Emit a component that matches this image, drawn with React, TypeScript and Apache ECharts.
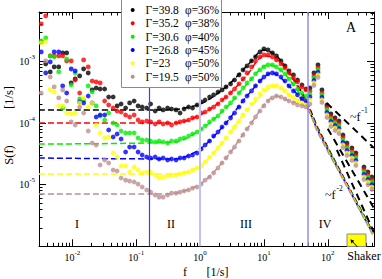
import React, { useEffect, useRef } from 'react';
import * as echarts from 'echarts';

const SERIF = '"Liberation Serif", "Times New Roman", serif';

// frequencies of the measured points [1/s]
const freq = [
  0.00325, 0.00382, 0.0045, 0.00519, 0.00611, 0.00705, 0.00814, 0.00958, 0.01106, 0.013,
  0.015, 0.0177, 0.0204, 0.0236, 0.0272, 0.032, 0.037, 0.0435, 0.0502, 0.058,
  0.0682, 0.0788, 0.0927, 0.107, 0.124, 0.146, 0.168, 0.198, 0.228, 0.264,
  0.31, 0.358, 0.421, 0.486, 0.562, 0.661, 0.763, 0.897, 1.04, 1.2,
  1.41, 1.63, 1.91, 2.21, 2.55, 3.0, 3.47, 4.08, 4.71, 5.44,
  6.4, 7.39, 8.69, 10.0, 11.6, 13.6, 15.7, 18.5, 21.4, 24.7,
  29.0, 33.6, 39.4, 45.6,
  52.6, 60.8, 70.3, 81.1, 97.1, 112, 130, 150, 173, 200, 239, 276, 369, 426, 492,
];

// log10 of S(f), one value per frequency
const blackLog10 = [
  -2.680, -3.037, -3.167, -3.086, -3.086, -2.858, -2.858, -3.346, -3.281, -3.232,
  -3.119, -3.184, -3.460, -3.428, -3.444, -3.444, -3.574, -3.574, -3.720, -3.688,
  -3.753, -3.671, -3.639, -3.720, -3.737, -3.753, -3.688, -3.802, -3.753, -3.785,
  -3.753, -3.769, -3.785, -3.834, -3.769, -3.737, -3.753, -3.704, -3.655, -3.623,
  -3.574, -3.541, -3.493, -3.460, -3.411, -3.362, -3.298, -3.216, -3.135, -3.070,
  -2.988, -2.923, -2.842, -2.793, -2.810, -2.858, -2.907, -2.988, -3.070, -3.151,
  -3.216, -3.298, -3.379, -3.444,
  -3.428, -3.184, -3.054, -3.460, -3.704, -3.850, -3.915, -3.964, -4.192, -4.322, -4.403, -4.484, -4.712, -4.793, -4.875,
];
const redLog10 = [
  -2.387, -2.257, -2.907, -2.907, -2.907, -2.907, -2.988, -2.988, -3.298, -3.509,
  -2.972, -3.086, -3.314, -3.330, -3.346, -3.639, -3.704, -3.753, -3.802, -3.818,
  -3.867, -3.899, -3.867, -3.948, -3.980, -3.964, -3.980, -4.013, -3.980, -4.013,
  -3.997, -4.029, -3.997, -3.980, -3.964, -3.948, -3.915, -3.899, -3.834, -3.818,
  -3.769, -3.737, -3.688, -3.623, -3.574, -3.509, -3.444, -3.362, -3.281, -3.184,
  -3.086, -2.988, -2.923, -2.891, -2.891, -2.923, -2.972, -3.037, -3.102, -3.184,
  -3.265, -3.330, -3.411, -3.460,
  -3.476, -3.232, -3.102, -3.509, -3.745, -3.891, -3.956, -4.005, -4.232, -4.362, -4.444, -4.525, -4.753, -4.834, -4.915,
];
const greenLog10 = [
  -2.663, -2.615, -2.907, -2.923, -3.167, -3.753, -2.956, -3.379, -3.184, -3.606,
  -3.623, -3.395, -3.493, -3.720, -3.883, -3.948, -3.834, -3.997, -4.029, -4.127,
  -4.159, -4.159, -4.159, -4.241, -4.273, -4.273, -4.289, -4.306, -4.289, -4.306,
  -4.322, -4.289, -4.289, -4.257, -4.241, -4.208, -4.176, -4.143, -4.094, -4.045,
  -3.980, -3.932, -3.883, -3.802, -3.737, -3.671, -3.590, -3.509, -3.428, -3.346,
  -3.281, -3.200, -3.135, -3.086, -3.054, -3.054, -3.086, -3.135, -3.200, -3.281,
  -3.362, -3.444, -3.509, -3.558,
  -3.525, -3.265, -3.135, -3.541, -3.785, -3.932, -3.997, -4.045, -4.273, -4.403, -4.484, -4.566, -4.793, -4.875, -4.956,
];
const blueLog10 = [
  -2.842, -3.184, -3.005, -2.842, -2.842, -3.395, -3.509, -3.119, -3.151, -3.655,
  -3.671, -3.558, -3.671, -3.899, -3.867, -3.867, -4.110, -4.224, -4.176, -4.257,
  -4.468, -4.387, -4.387, -4.468, -4.517, -4.549, -4.566, -4.549, -4.582, -4.566,
  -4.598, -4.582, -4.598, -4.566, -4.566, -4.533, -4.517, -4.484, -4.419, -4.354,
  -4.289, -4.208, -4.143, -4.062, -3.997, -3.915, -3.834, -3.737, -3.639, -3.558,
  -3.476, -3.395, -3.314, -3.249, -3.200, -3.184, -3.200, -3.249, -3.314, -3.395,
  -3.476, -3.541, -3.606, -3.639,
  -3.574, -3.306, -3.175, -3.582, -3.826, -3.972, -4.037, -4.086, -4.314, -4.444, -4.525, -4.606, -4.834, -4.915, -4.997,
];
const yellowLog10 = [
  -2.696, -2.680, -3.460, -3.493, -3.720, -3.720, -3.834, -3.850, -3.834, -3.671,
  -3.590, -3.737, -3.671, -4.029, -4.159, -4.241, -4.224, -4.484, -4.549, -4.696,
  -4.696, -4.793, -4.712, -4.761, -4.810, -4.793, -4.793, -4.842, -4.891, -4.875,
  -4.858, -4.842, -4.842, -4.826, -4.810, -4.793, -4.761, -4.728, -4.696, -4.631,
  -4.549, -4.484, -4.403, -4.322, -4.241, -4.143, -4.062, -3.964, -3.867, -3.785,
  -3.688, -3.606, -3.525, -3.460, -3.411, -3.395, -3.395, -3.428, -3.476, -3.541,
  -3.590, -3.639, -3.671, -3.704,
  -3.623, -3.346, -3.216, -3.623, -3.867, -4.013, -4.078, -4.127, -4.354, -4.484, -4.566, -4.647, -4.875, -4.956, -5.037,
];
const brownLog10 = [
  -3.509, -2.988, -3.249, -3.411, -3.590, -3.460, -3.639, -3.980, -4.029, -3.737,
  -3.834, -4.127, -4.322, -4.354, -4.680, -4.598, -4.647, -4.761, -4.777, -4.891,
  -4.924, -4.940, -4.956, -4.989, -5.037, -5.086, -5.119, -5.167, -5.200, -5.200,
  -5.167, -5.135, -5.135, -5.119, -5.102, -5.086, -5.054, -5.037, -4.989, -4.924,
  -4.875, -4.810, -4.728, -4.647, -4.566, -4.468, -4.387, -4.289, -4.192, -4.094,
  -3.997, -3.899, -3.802, -3.720, -3.639, -3.590, -3.558, -3.574, -3.606, -3.639,
  -3.671, -3.704, -3.720, -3.737,
  -3.688, -3.387, -3.257, -3.663, -3.907, -4.054, -4.119, -4.167, -4.395, -4.525, -4.606, -4.688, -4.915, -4.997, -5.078,
];

// dashed fit curves (frequency, log10 S)
const blackFitF = [0.003, 0.3, 1.0, 2.55, 5.44, 10, 15.7, 24.7, 45.6, 70.3, 222, 510];
const blackFitLog10 = [-3.785, -3.785, -3.688, -3.411, -3.070, -2.810, -2.907, -3.167, -3.623, -4.078, -5.070, -5.769];
const redFitF = [0.003, 0.4, 1.0, 2.55, 5.44, 10, 15.7, 24.7, 45.6, 70.3, 222, 510];
const redFitLog10 = [-3.997, -3.997, -3.867, -3.574, -3.216, -2.907, -2.956, -3.184, -3.655, -4.094, -5.086, -5.785];
const greenFitF = [0.003, 0.4, 1.0, 2.55, 5.44, 11.6, 15.7, 24.7, 45.6, 70.3, 222, 510];
const greenFitLog10 = [-4.338, -4.306, -4.110, -3.753, -3.362, -3.054, -3.086, -3.281, -3.688, -4.110, -5.086, -5.785];
const blueFitF = [0.003, 0.4, 1.0, 2.55, 5.44, 13.6, 24.7, 45.6, 70.3, 222, 510];
const blueFitLog10 = [-4.566, -4.582, -4.419, -3.997, -3.558, -3.184, -3.395, -3.704, -4.127, -5.102, -5.801];
const yellowFitF = [0.003, 0.4, 1.0, 2.55, 5.44, 15.7, 24.7, 45.6, 70.3, 222, 510];
const yellowFitLog10 = [-4.826, -4.826, -4.696, -4.241, -3.785, -3.395, -3.541, -3.720, -4.143, -5.102, -5.801];
const brownFitF = [0.003, 0.3, 1.0, 2.55, 5.44, 15.7, 24.7, 45.6, 70.3, 222, 510];
const brownFitLog10 = [-5.151, -5.151, -4.989, -4.566, -4.094, -3.558, -3.639, -3.737, -4.159, -5.119, -5.818];

// black power-law guides
const guideAF = [96, 528];
const guideALog10 = [-3.672, -4.403];
const guideBF = [100, 528];
const guideBLog10 = [-4.09, -5.379];
const guideCF = [139, 528];
const guideCLog10 = [-4.436, -5.77];

// region boundaries [1/s]
const boundaries = [0.159, 1.0, 48];

const gammaLabels = ['39.8', '35.2', '30.6', '26.8', '23', '19.5'];
const phiLabels = ['36%', '38%', '40%', '45%', '50%', '50%'];
const colors = ['#000000', '#ff0000', '#00ee00', '#0000ff', '#ffff00', '#bc8f8f'];
const dotSets = [blackLog10, redLog10, greenLog10, blueLog10, yellowLog10, brownLog10];
const fitF = [blackFitF, redFitF, greenFitF, blueFitF, yellowFitF, brownFitF];
const fitS = [blackFitLog10, redFitLog10, greenFitLog10, blueFitLog10, yellowFitLog10, brownFitLog10];

const X_MIN = 0.003;
const X_MAX = 530;
const Y_MIN = 1e-6;
const Y_MAX = 0.0064;

const labelRich = {
  b: { fontSize: 10, fontFamily: SERIF, color: '#000' },
  e: { fontSize: 7, fontFamily: SERIF, color: '#000', padding: [0, 0, 9, 0] },
};
const powFormatter = (v: number) => {
  const l = Math.log10(v);
  const e = Math.round(l);
  if (Math.abs(l - e) > 1e-6) return '';
  return `{b|10}{e|${e}}`;
};

function makeAxis(position: string, showLabel: boolean, min: number, max: number, margin: number) {
  return {
    type: 'log',
    logBase: 10,
    min,
    max,
    position,
    axisLine: { show: true, lineStyle: { color: '#000', width: 1 } },
    axisTick: { show: true, inside: true, length: 7, lineStyle: { color: '#000', width: 1 } },
    minorTick: { show: true, splitNumber: 9, length: 3.5, lineStyle: { color: '#000', width: 1 } },
    splitLine: { show: false },
    minorSplitLine: { show: false },
    axisLabel: { show: showLabel, formatter: powFormatter, rich: labelRich, margin, showMinLabel: false, showMaxLabel: false },
  };
}

function buildOption() {
  const series: any[] = [];
  colors.forEach((c, k) => {
    series.push({
      type: 'line',
      name: 'fit' + k,
      data: fitF[k].map((f, i) => [f, 10 ** fitS[k][i]]),
      showSymbol: false,
      smooth: 0.3,
      lineStyle: { color: c, width: 1.5, type: [6, 3] },
      z: 2,
      silent: true,
      ...(k === 0
        ? {
            markLine: {
              silent: true,
              symbol: ['none', 'none'],
              label: { show: false },
              data: [
                { xAxis: boundaries[0], lineStyle: { color: '#3c3cff', width: 1.2, type: 'solid' } },
                { xAxis: boundaries[1], lineStyle: { color: '#c0c0f4', width: 2, type: 'solid' } },
                { xAxis: boundaries[2], lineStyle: { color: '#8e8ef2', width: 1.5, type: 'solid' } },
              ],
            },
          }
        : {}),
    });
  });
  [
    [guideAF, guideALog10],
    [guideBF, guideBLog10],
    [guideCF, guideCLog10],
  ].forEach(([fs, ls], k) => {
    series.push({
      type: 'line',
      name: 'guide' + k,
      data: fs.map((f, i) => [f, 10 ** ls[i]]),
      showSymbol: false,
      lineStyle: { color: '#000', width: 2, type: [7, 5] },
      z: 2,
      silent: true,
    });
  });
  colors.forEach((c, k) => {
    series.push({
      type: 'scatter',
      name: `Γ=${gammaLabels[k]} φ=${phiLabels[k]}`,
      data: freq.map((f, i) => [f, 10 ** dotSets[k][i]]),
      symbol: 'circle',
      symbolSize: 4.8,
      itemStyle: { color: c },
      z: 3,
      silent: true,
    });
  });

  const textStyle = (size: number) => ({ fontSize: size, fontFamily: SERIF, fill: '#000' });
  const graphic: any[] = [];
  // legend box
  graphic.push({
    type: 'rect',
    shape: { x: 121.5, y: -1, width: 100, height: 88.5 },
    style: { fill: '#fff', stroke: '#8a8a8a', lineWidth: 1 },
    z: 100,
  });
  colors.forEach((c, k) => {
    const y = 10 + k * 13.33;
    graphic.push({ type: 'circle', shape: { cx: 132.7, cy: y, r: 2 }, style: { fill: c }, z: 101 });
    graphic.push({
      type: 'text', x: 145.5, y, z: 101,
      style: { ...textStyle(11.5), text: `Γ=${gammaLabels[k]}`, align: 'left', verticalAlign: 'middle' },
    });
    graphic.push({
      type: 'text', x: 185, y, z: 101,
      style: { ...textStyle(11.5), text: `φ=${phiLabels[k]}`, align: 'left', verticalAlign: 'middle' },
    });
  });
  const place = (text: string, x: number, y: number, size: number, align = 'center') =>
    graphic.push({ type: 'text', x, y, z: 50, style: { ...textStyle(size), text, align, verticalAlign: 'middle' } });
  place('I', 77, 223.5, 12);
  place('II', 171, 224, 12);
  place('III', 246, 224, 12);
  place('IV', 325, 224, 12);
  place('A', 351, 27, 14);
  place('~f', 350, 117, 12, 'left');
  place('-1', 361.5, 110.5, 7.5, 'left');
  place('~f', 325, 195, 12, 'left');
  place('-2', 336.5, 188, 7.5, 'left');
  place('f', 185, 271.5, 12);
  place('[1/s]', 217.5, 271.5, 12);
  place('Shaker', 364, 255.5, 12);
  // y axis title (rotated)
  graphic.push({ type: 'text', x: 9, y: 155, rotation: Math.PI / 2, z: 50, style: { ...textStyle(12.5), text: 'S(f)', align: 'center', verticalAlign: 'middle' } });
  graphic.push({ type: 'text', x: 9, y: 97.5, rotation: Math.PI / 2, z: 50, style: { ...textStyle(12.5), text: '[1/s]', align: 'center', verticalAlign: 'middle' } });
  // shaker marker
  graphic.push({
    type: 'rect', shape: { x: 347, y: 234, width: 19, height: 12.5 },
    style: { fill: '#ffff00', stroke: '#888', lineWidth: 1 }, z: 60,
  });
  graphic.push({ type: 'line', shape: { x1: 357.5, y1: 247, x2: 351.5, y2: 240.5 }, style: { stroke: '#000', lineWidth: 1 }, z: 61 });
  graphic.push({ type: 'polygon', shape: { points: [[350.5, 239.3], [351.3, 243.5], [354.3, 240.8]] }, style: { fill: '#000' }, z: 61 });

  return {
    animation: false,
    backgroundColor: '#ffffff',
    grid: { left: 39, right: 8, top: 12, bottom: 32.7, containLabel: false },
    xAxis: [makeAxis('bottom', true, X_MIN, X_MAX, 3), makeAxis('top', false, X_MIN, X_MAX, 3)],
    yAxis: [makeAxis('left', true, Y_MIN, Y_MAX, 4), makeAxis('right', false, Y_MIN, Y_MAX, 4)],
    series,
    graphic,
  };
}

export default function App() {
  const ref = useRef<HTMLDivElement>(null);
  useEffect(() => {
    if (!ref.current) return;
    const chart = echarts.init(ref.current, null, { renderer: 'svg' });
    chart.setOption(buildOption() as any);
    return () => chart.dispose();
  }, []);
  return <div ref={ref} style={{ position: 'fixed', left: 0, top: 0, width: 382, height: 279 }} />;
}
